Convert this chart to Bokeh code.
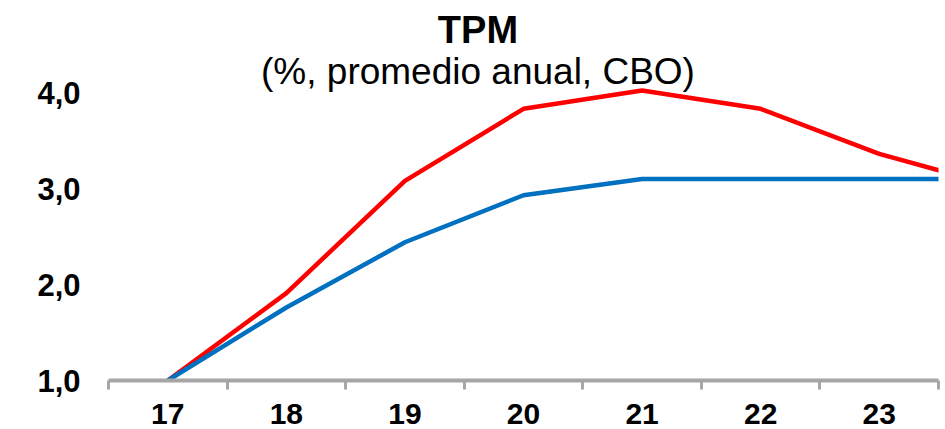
from bokeh.plotting import figure
from bokeh.models import Range1d, FixedTicker, Label, CustomJSTickFormatter
from bokeh.embed import file_html
from bokeh.resources import INLINE

years = [17, 18, 19, 20, 21, 22, 23, 24]
year_labels = ["17", "18", "19", "20", "21", "22", "23"]
tpm_red = [1.0, 1.91, 3.08, 3.83, 4.02, 3.83, 3.36, 3.02]
tpm_blue = [1.0, 1.76, 2.44, 2.93, 3.10, 3.10, 3.10, 3.10]
y_ticks = [1, 2, 3, 4]

FONT = "Liberation Sans"
GRAY = "#A6A6A6"

p = figure(width=945, height=429, output_backend="svg", toolbar_location=None,
           x_range=Range1d(16.5, 23.5), y_range=Range1d(1, 1 + 380 / 96),
           min_border_left=108, min_border_right=7, min_border_top=0, min_border_bottom=49)
p.outline_line_color = None
p.xgrid.visible = False
p.ygrid.visible = False
p.background_fill_color = "white"
p.border_fill_color = "white"

p.line(years, tpm_red, line_color="#FF0000", line_width=4.5)
p.line(years, tpm_blue, line_color="#0070C0", line_width=4.5)

xa = p.xaxis[0]
xa.ticker = FixedTicker(ticks=years[:7], minor_ticks=[y - 0.5 for y in years])
xa.major_label_overrides = {float(y): lab for y, lab in zip(years, year_labels)}
xa.axis_line_color = GRAY
xa.axis_line_width = 4
xa.major_tick_out = 0
xa.major_tick_in = 0
xa.minor_tick_out = 9
xa.minor_tick_in = 0
xa.minor_tick_line_color = GRAY
xa.minor_tick_line_width = 3
xa.major_label_text_font = FONT
xa.major_label_text_font_style = "bold"
xa.major_label_text_font_size = "30px"
xa.major_label_text_color = "black"
xa.major_label_standoff = 14

ya = p.yaxis[0]
ya.ticker = FixedTicker(ticks=y_ticks)
ya.formatter = CustomJSTickFormatter(code="return tick.toFixed(1).replace('.', ',');")
ya.axis_line_color = None
ya.major_tick_line_color = None
ya.minor_tick_line_color = None
ya.major_label_text_font = FONT
ya.major_label_text_font_style = "bold"
ya.major_label_text_font_size = "31px"
ya.major_label_text_color = "black"
ya.major_label_standoff = 22

p.add_layout(Label(x=19.616, y=1 + (380 - 29) / 96, text="TPM", text_align="center",
                   text_baseline="alphabetic", text_font=FONT, text_font_style="bold",
                   text_font_size="38px", text_color="black"))
p.add_layout(Label(x=19.616, y=1 + (380 - 71) / 96, text="(%, promedio anual, CBO)",
                   text_align="center", text_baseline="alphabetic", text_font=FONT,
                   text_font_size="37px", text_color="black"))

open("out.html", "w").write(file_html(p, INLINE))
